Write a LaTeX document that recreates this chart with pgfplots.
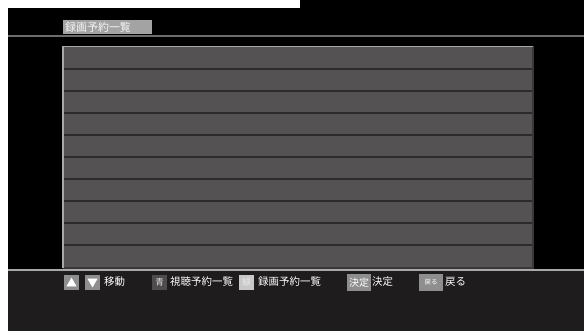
\documentclass[border=0pt]{standalone}
\usepackage{fontspec}
\setmainfont{Noto Sans CJK JP}
\usepackage{pgfplots}
\pgfplotsset{compat=1.18}
\definecolor{foot}{HTML}{1E1C1D}
\definecolor{rowc}{HTML}{555254}
\definecolor{sep}{HTML}{2C2A2B}
\definecolor{rim}{HTML}{A8A8A8}
\definecolor{rimdark}{HTML}{3A3839}
\definecolor{titlec}{HTML}{A3A3A3}
\definecolor{btn}{HTML}{8E8E8E}
\definecolor{btndark}{HTML}{4E4C4D}
\definecolor{btnlight}{HTML}{C8C8C8}
\begin{document}
\begin{tikzpicture}
\begin{axis}[
  width=584bp, height=331bp, scale only axis,
  xmin=0, xmax=584, ymin=0, ymax=331, y dir=reverse,
  hide axis, clip=true,
]
% background
\addplot[fill=black, draw=none] coordinates {(0,0) (584,0) (584,331) (0,331)} -- cycle;
% white strips
\addplot[fill=white, draw=none] coordinates {(0,0) (8,0) (8,331) (0,331)} -- cycle;
\addplot[fill=white, draw=none] coordinates {(0,0) (300,0) (300,8) (0,8)} -- cycle;
% footer
\addplot[fill=foot, draw=none] coordinates {(8,270) (584,270) (584,331) (8,331)} -- cycle;
\addplot[color=rim, line width=1.5bp] coordinates {(8,270) (584,270)};
% top line
\addplot[color=gray!85!black, line width=1.5bp] coordinates {(8,36) (584,36)};
% title
\addplot[fill=titlec, draw=none] coordinates {(63,20) (152,20) (152,34) (63,34)} -- cycle;
\node[anchor=west, text=white!92!gray, font=\fontsize{11}{12}\selectfont, inner sep=0pt] at (axis cs:65,27) {録画予約一覧};
% table
\addplot[fill=rowc, draw=none] coordinates {(63,46) (533,46) (533,268) (63,268)} -- cycle;
\addplot[color=sep, line width=2bp] coordinates {(63,69) (533,69)};
\addplot[color=sep, line width=2bp] coordinates {(63,91) (533,91)};
\addplot[color=sep, line width=2bp] coordinates {(63,113) (533,113)};
\addplot[color=sep, line width=2bp] coordinates {(63,135) (533,135)};
\addplot[color=sep, line width=2bp] coordinates {(63,157) (533,157)};
\addplot[color=sep, line width=2bp] coordinates {(63,179) (533,179)};
\addplot[color=sep, line width=2bp] coordinates {(63,201) (533,201)};
\addplot[color=sep, line width=2bp] coordinates {(63,223) (533,223)};
\addplot[color=sep, line width=2bp] coordinates {(63,245) (533,245)};
\addplot[color=rimdark, line width=1.5bp] coordinates {(533,46) (533,268) (63,268)};
\addplot[color=rim, line width=1.5bp] coordinates {(63,268) (63,46.5) (533,46.5)};
% footer buttons
\addplot[fill=btn, draw=none] coordinates {(64,275) (79,275) (79,290) (64,290)} -- cycle;
\addplot[fill=btn, draw=none] coordinates {(85,275) (100,275) (100,290) (85,290)} -- cycle;
\addplot[only marks, mark=triangle*, mark size=5.5pt, color=white] coordinates {(71.5,283.5)};
\addplot[only marks, mark=triangle*, mark size=5.5pt, color=white, mark options={rotate=180}] coordinates {(92.5,281.5)};
\node[anchor=west, text=white, font=\fontsize{10.5}{12}\selectfont, inner sep=0pt] at (axis cs:104,282) {移動};
\addplot[fill=btndark, draw=none] coordinates {(152,275) (167,275) (167,290) (152,290)} -- cycle;
\node[text=white!80!gray, font=\fontsize{8.5}{10}\selectfont, inner sep=0pt] at (axis cs:159.5,282.5) {青};
\node[anchor=west, text=white, font=\fontsize{10.5}{12}\selectfont, inner sep=0pt] at (axis cs:170,282) {視聴予約一覧};
\addplot[fill=btnlight, draw=none] coordinates {(239,275) (254,275) (254,290) (239,290)} -- cycle;
\node[text=white!85!gray, font=\fontsize{8.5}{10}\selectfont, inner sep=0pt] at (axis cs:246.5,282.5) {緑};
\node[anchor=west, text=white, font=\fontsize{10.5}{12}\selectfont, inner sep=0pt] at (axis cs:258,282) {録画予約一覧};
\addplot[fill=btn, draw=none] coordinates {(347,274) (371,274) (371,291) (347,291)} -- cycle;
\node[text=white, font=\fontsize{10}{12}\selectfont, inner sep=0pt] at (axis cs:359,282.5) {決定};
\node[anchor=west, text=white, font=\fontsize{10.5}{12}\selectfont, inner sep=0pt] at (axis cs:372,282) {決定};
\addplot[fill=btn, draw=none] coordinates {(419,274) (443,274) (443,291) (419,291)} -- cycle;
\node[text=white, font=\fontsize{6.5}{8}\selectfont, inner sep=0pt] at (axis cs:431,282.5) {戻る};
\node[anchor=west, text=white, font=\fontsize{10.5}{12}\selectfont, inner sep=0pt] at (axis cs:445,282) {戻る};
\end{axis}
\end{tikzpicture}
\end{document}
